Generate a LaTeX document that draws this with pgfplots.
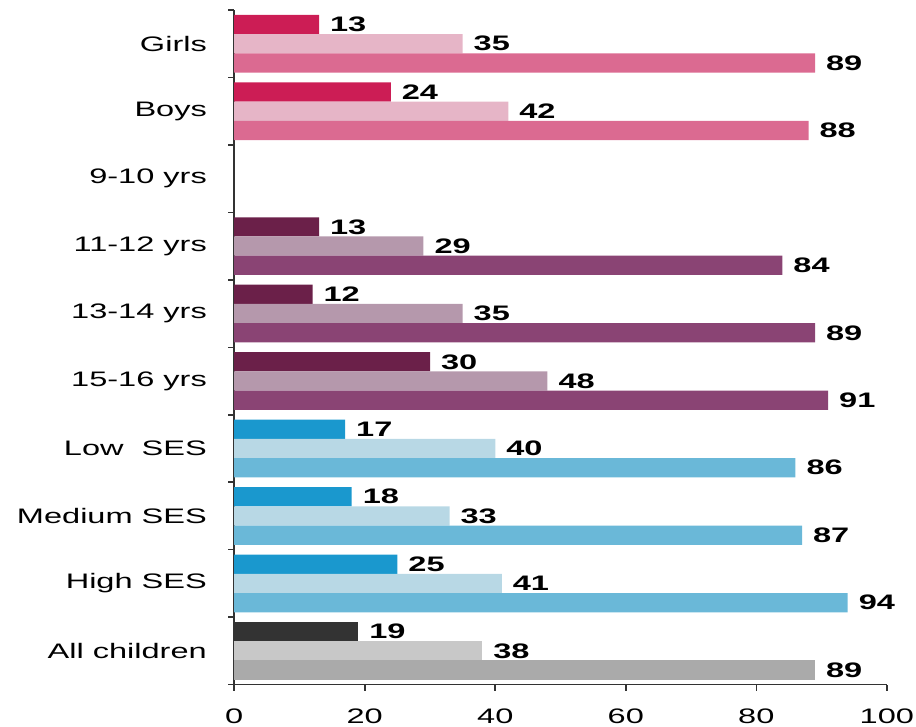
\documentclass[border={8.5pt 1.5pt 1pt 4.6pt}]{standalone}
\usepackage{pgfplots}
\pgfplotsset{compat=1.18}
\usepackage{fontspec}
\setmainfont{Liberation Sans}[FakeStretch=1.55]
\definecolor{pkD}{HTML}{CC1D55}
\definecolor{pkL}{HTML}{E6B5C7}
\definecolor{pkM}{HTML}{DB6A91}
\definecolor{puD}{HTML}{6B2049}
\definecolor{puL}{HTML}{B598AC}
\definecolor{puM}{HTML}{8A4474}
\definecolor{blD}{HTML}{1A98CE}
\definecolor{blL}{HTML}{B8D8E5}
\definecolor{blM}{HTML}{6AB8D8}
\definecolor{grD}{HTML}{333333}
\definecolor{grL}{HTML}{C8C8C8}
\definecolor{grM}{HTML}{AAAAAA}
\begin{document}
\begin{tikzpicture}
\begin{axis}[
  scale only axis, width=326.5pt, height=337.5pt,
  xbar, bar width=0.285,
  xmin=0, xmax=100, ymin=-0.5, ymax=9.5,
  axis x line*=bottom, axis y line*=left,
  axis line style={black!80, line width=0.8pt},
  xtick={0,20,...,100},
  ytick={0,...,9},
  yticklabels={All children, High SES, Medium SES, Low\ \ SES, 15-16 yrs, 13-14 yrs, 11-12 yrs, 9-10 yrs, Boys, Girls},
  minor ytick={-0.5,0.5,...,9.5},
  tick align=outside,
  major tick length=3pt, minor tick length=3pt,
  tick style={black!80, line width=0.8pt},
  major y tick style={draw=none},
  /pgf/number format/assume math mode=true,
  tick label style={font=\fontsize{10.5}{12}\selectfont, text=black},
  yticklabel style={inner xsep=0pt, xshift=-10.5pt},
  xticklabel style={inner sep=0pt, yshift=-9pt},
  point meta=x,
  nodes near coords,
  nodes near coords style={font=\fontsize{10.5}{12}\selectfont\bfseries, anchor=west, xshift=2pt, text=black},
  every axis plot/.append style={draw=none},
]
% Gender
\addplot[fill=pkD, bar shift=0.285] coordinates {(13,9) (24,8)};
\addplot[fill=pkL, bar shift=0] coordinates {(35,9) (42,8)};
\addplot[fill=pkM, bar shift=-0.285] coordinates {(89,9) (88,8)};
% Age
\addplot[fill=puD, bar shift=0.285] coordinates {(13,6) (12,5) (30,4)};
\addplot[fill=puL, bar shift=0] coordinates {(29,6) (35,5) (48,4)};
\addplot[fill=puM, bar shift=-0.285] coordinates {(84,6) (89,5) (91,4)};
% SES
\addplot[fill=blD, bar shift=0.285] coordinates {(17,3) (18,2) (25,1)};
\addplot[fill=blL, bar shift=0] coordinates {(40,3) (33,2) (41,1)};
\addplot[fill=blM, bar shift=-0.285] coordinates {(86,3) (87,2) (94,1)};
% All
\addplot[fill=grD, bar shift=0.285] coordinates {(19,0)};
\addplot[fill=grL, bar shift=0] coordinates {(38,0)};
\addplot[fill=grM, bar shift=-0.285] coordinates {(89,0)};
\end{axis}
\end{tikzpicture}
\end{document}
